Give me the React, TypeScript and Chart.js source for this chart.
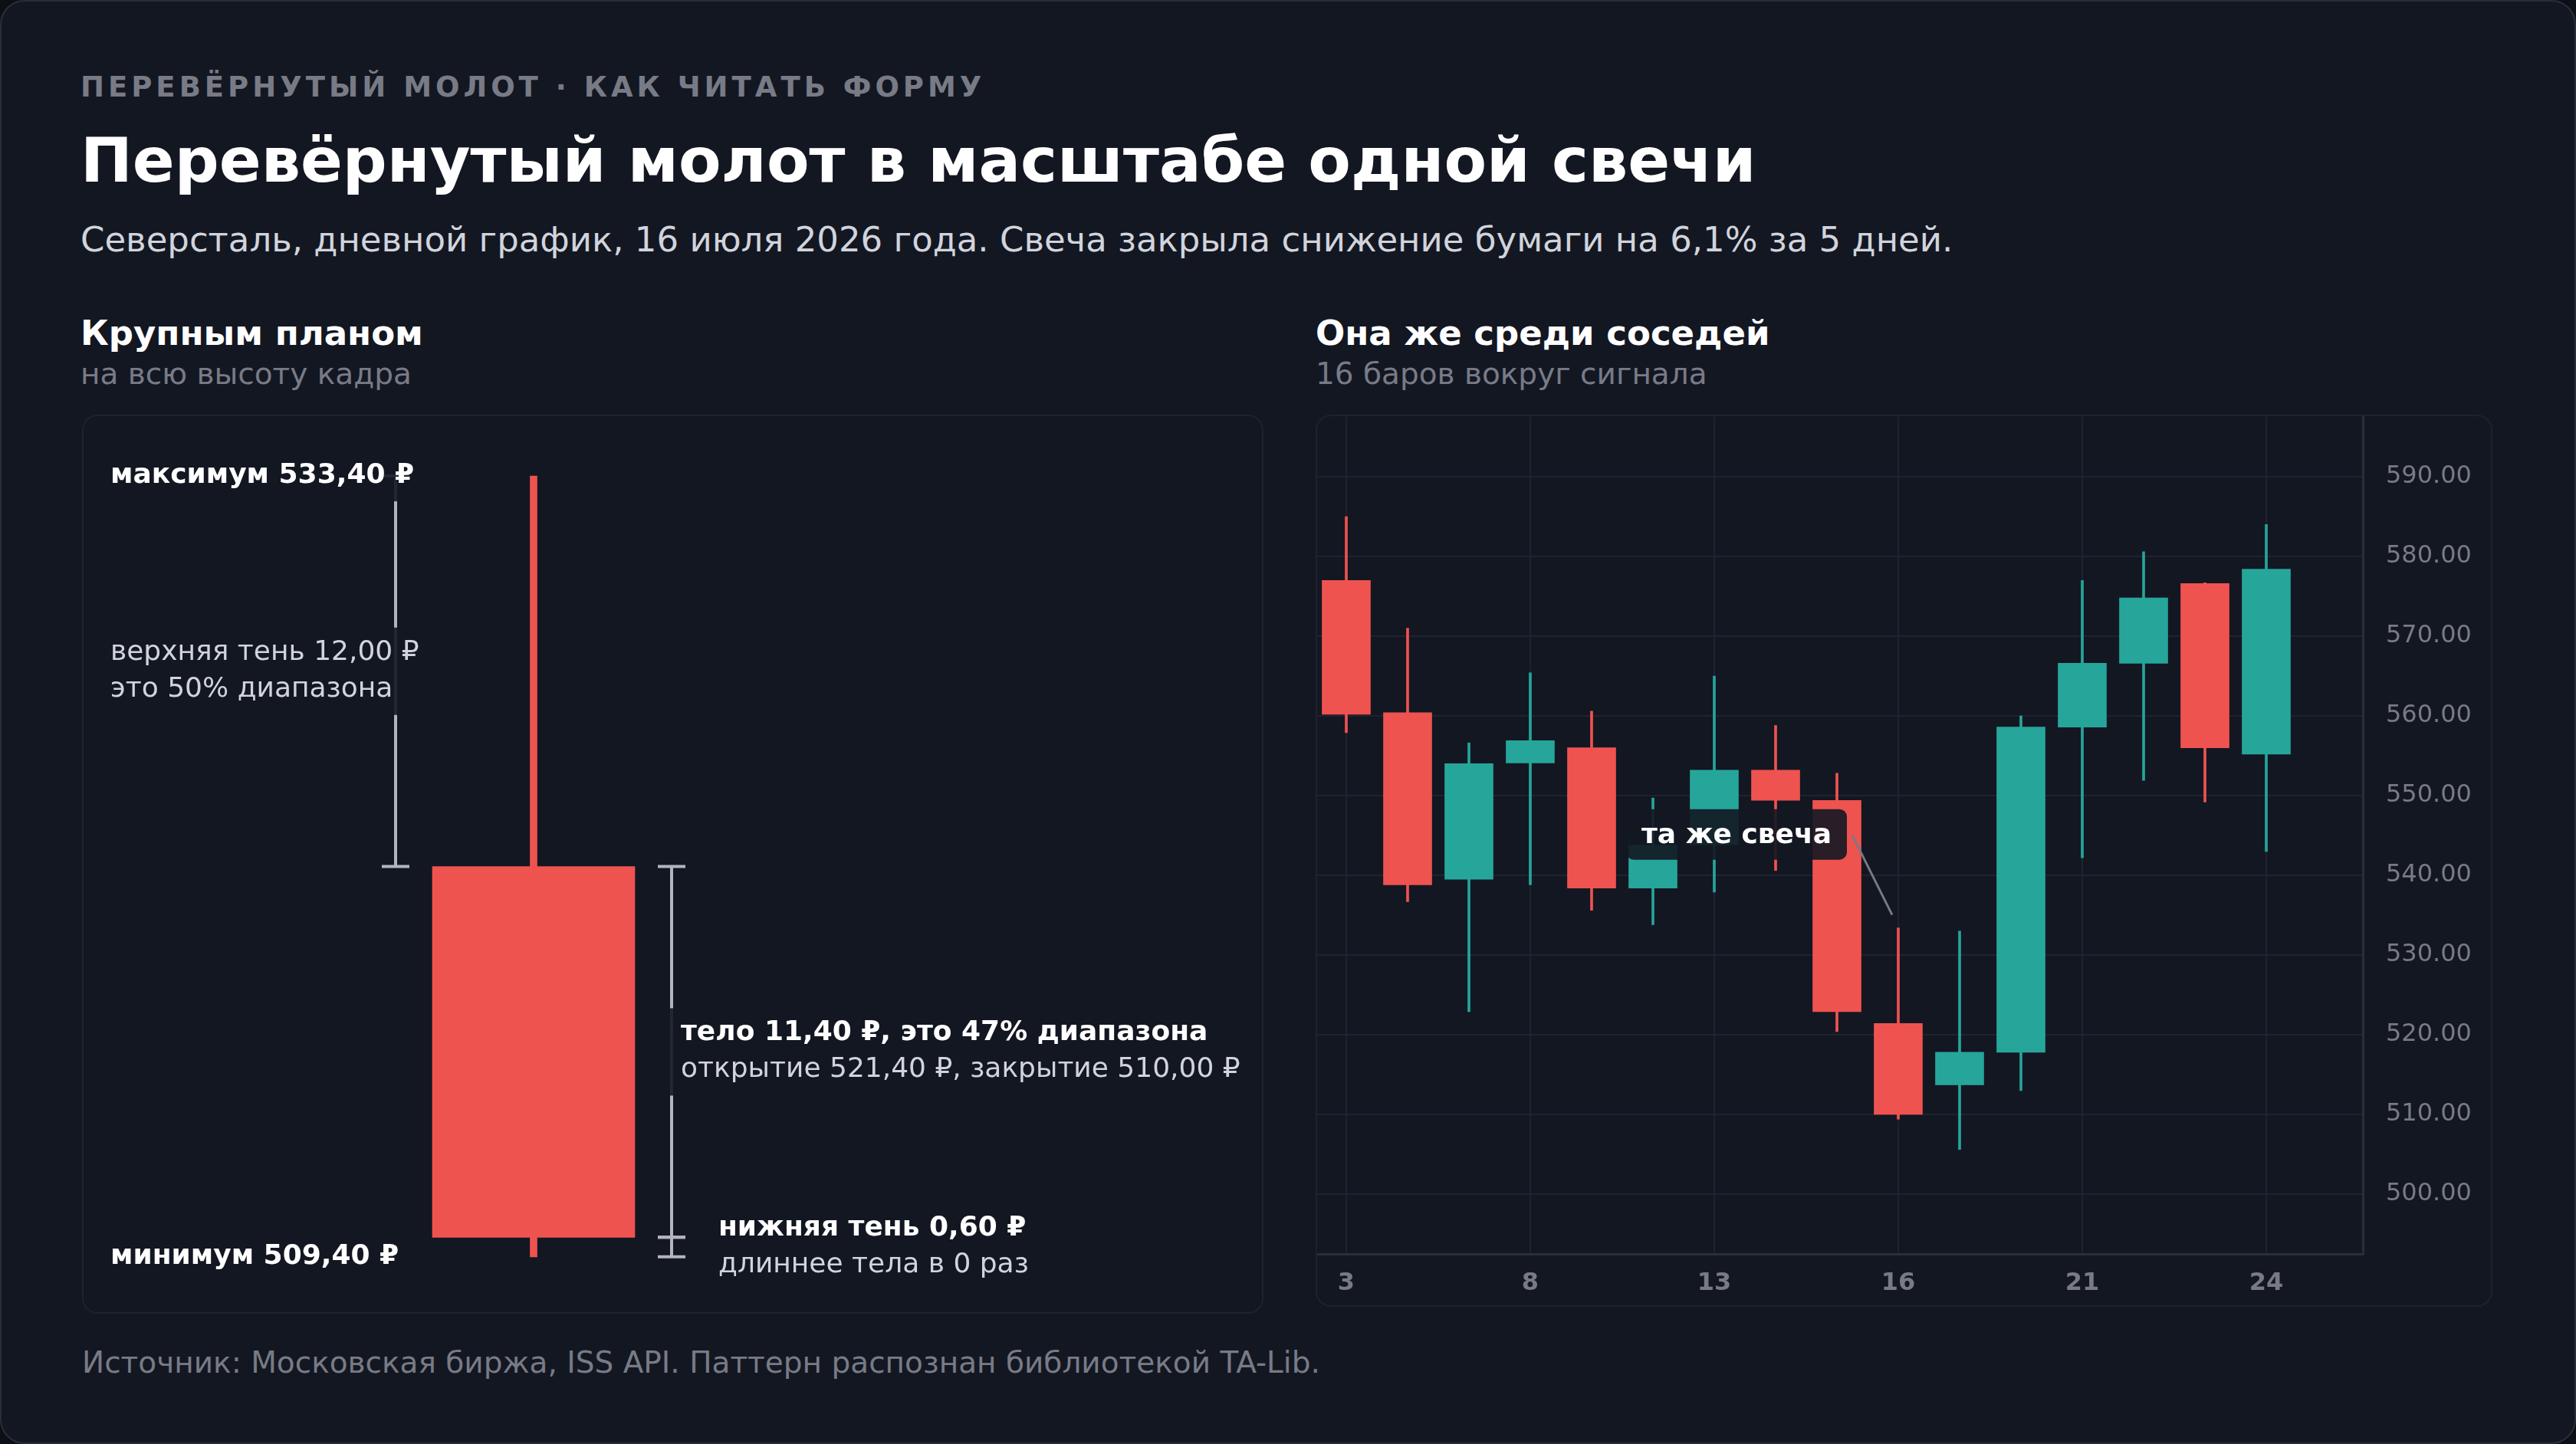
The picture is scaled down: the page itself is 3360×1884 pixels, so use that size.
import { useEffect, useRef } from 'react';
import { Chart, registerables } from 'chart.js';

Chart.register(...registerables);
Chart.defaults.font.family = '"DejaVu Sans", sans-serif';

// Severstal daily candles around the signal (July 2026)
const days = [3, 6, 7, 8, 9, 10, 13, 14, 15, 16, 17, 20, 21, 22, 23, 24];
const opens = [577.0, 560.4, 539.5, 554.1, 556.0, 538.4, 543.8, 553.2, 549.4, 521.4, 513.7, 517.8, 558.6, 566.6, 576.6, 555.2];
const highs = [585.0, 571.0, 556.6, 565.4, 560.6, 549.7, 565.0, 558.8, 552.8, 533.4, 533.0, 560.0, 577.0, 580.6, 576.7, 584.0];
const lows = [557.9, 536.7, 522.9, 538.8, 535.6, 533.8, 537.9, 540.6, 520.4, 509.4, 505.6, 513.0, 542.2, 551.9, 549.2, 543.0];
const closes = [560.2, 538.8, 554.0, 556.9, 538.4, 543.8, 553.2, 549.4, 522.9, 510.0, 517.8, 558.6, 566.6, 574.8, 556.0, 578.4];
const tickIdx = [0, 3, 6, 9, 12, 15];
const signalIdx = 9;

const BG = '#131722';
const RED = '#ef5350';
const TEAL = '#26a69a';
const GRID = '#1f2330';
const AXIS = '#2a2e39';
const MUTED = '#787b86';
const SOFT = '#d1d4dc';
const BRACKET = '#b2b5be';
const MASK = 'rgba(19,23,34,0.9)';

const rub = (v: number) => v.toFixed(2).replace('.', ',') + ' ₽';

const candleColor = (i: number) => (closes[i] >= opens[i] ? TEAL : RED);

function drawBracket(ctx: CanvasRenderingContext2D, x: number, y1: number, y2: number) {
  ctx.strokeStyle = BRACKET;
  ctx.lineWidth = 4;
  ctx.beginPath();
  ctx.moveTo(x, y1);
  ctx.lineTo(x, y2);
  ctx.moveTo(x - 18, y1);
  ctx.lineTo(x + 18, y1);
  ctx.moveTo(x - 18, y2);
  ctx.lineTo(x + 18, y2);
  ctx.stroke();
}

type Line = { text: string; bold: boolean };

function drawLabel(ctx: CanvasRenderingContext2D, x: number, cy: number, lines: Line[]) {
  const fontOf = (l: Line) => (l.bold ? 'bold ' : '') + '36px "DejaVu Sans"';
  const baselines = lines.length === 1 ? [cy + 9] : [cy - 15, cy + 33];
  let w = 0;
  lines.forEach((l) => {
    ctx.font = fontOf(l);
    w = Math.max(w, ctx.measureText(l.text).width);
  });
  ctx.fillStyle = MASK;
  const top = baselines[0] - 42;
  const bottom = baselines[baselines.length - 1] + 24;
  ctx.fillRect(x - 16, top, w + 32, bottom - top);
  ctx.textBaseline = 'alphabetic';
  ctx.textAlign = 'left';
  lines.forEach((l, i) => {
    ctx.font = fontOf(l);
    ctx.fillStyle = l.bold ? '#ffffff' : SOFT;
    ctx.fillText(l.text, x, baselines[i]);
  });
}

const closeUpPlugin = {
  id: 'closeUp',
  afterDatasetsDraw(chart: any) {
    const { ctx } = chart;
    const y = chart.scales.y;
    const s = signalIdx;
    const cx = chart.getDatasetMeta(1).data[0].x;
    const yHigh = y.getPixelForValue(highs[s]);
    const yTop = y.getPixelForValue(Math.max(opens[s], closes[s]));
    const yBot = y.getPixelForValue(Math.min(opens[s], closes[s]));
    const yLow = y.getPixelForValue(lows[s]);
    ctx.save();
    drawBracket(ctx, cx - 180, yHigh, yTop);
    drawBracket(ctx, cx + 180, yTop, yBot);
    drawBracket(ctx, cx + 180, yBot, yLow);
    const left = chart.chartArea.left + 35;
    drawLabel(ctx, left, yHigh, [{ text: 'максимум ' + rub(highs[s]), bold: true }]);
    drawLabel(ctx, left, (yHigh + yTop) / 2, [
      { text: 'верхняя тень 12,00 ₽', bold: false },
      { text: 'это 50% диапазона', bold: false },
    ]);
    drawLabel(ctx, cx + 192, (yTop + yBot) / 2, [
      { text: 'тело 11,40 ₽, это 47% диапазона', bold: true },
      { text: 'открытие ' + rub(opens[s]) + ', закрытие ' + rub(closes[s]), bold: false },
    ]);
    drawLabel(ctx, cx + 241, (yBot + yLow) / 2, [
      { text: 'нижняя тень 0,60 ₽', bold: true },
      { text: 'длиннее тела в 0 раз', bold: false },
    ]);
    drawLabel(ctx, left, yLow, [{ text: 'минимум ' + rub(lows[s]), bold: true }]);
    ctx.restore();
  },
};

const tagPlugin = {
  id: 'tag',
  afterDatasetsDraw(chart: any) {
    const { ctx } = chart;
    const cx = chart.getDatasetMeta(0).data[signalIdx].x;
    const yHigh = chart.scales.y.getPixelForValue(highs[signalIdx]);
    const text = 'та же свеча';
    ctx.save();
    ctx.font = 'bold 36px "DejaVu Sans"';
    const w = ctx.measureText(text).width;
    const boxR = cx - 67;
    const boxW = w + 40;
    const boxL = boxR - boxW;
    const boxT = yHigh - 155;
    ctx.fillStyle = 'rgba(19,23,34,0.9)';
    ctx.beginPath();
    ctx.roundRect(boxL, boxT, boxW, 66, 10);
    ctx.fill();
    ctx.fillStyle = '#ffffff';
    ctx.textBaseline = 'alphabetic';
    ctx.fillText(text, boxL + 20, yHigh - 111);
    ctx.strokeStyle = MUTED;
    ctx.lineWidth = 3;
    ctx.beginPath();
    ctx.moveTo(boxR + 7, yHigh - 121);
    ctx.lineTo(cx - 8, yHigh - 17);
    ctx.stroke();
    ctx.restore();
  },
};

const barOpts = { grouped: false, barPercentage: 1, categoryPercentage: 1, borderWidth: 0 };

function CloseUp() {
  const ref = useRef<HTMLCanvasElement>(null);
  useEffect(() => {
    const s = signalIdx;
    const chart = new Chart(ref.current!, {
      type: 'bar',
      data: {
        labels: [String(days[s])],
        datasets: [
          { ...barOpts, data: [[lows[s], highs[s]]], backgroundColor: RED, maxBarThickness: 9 },
          { ...barOpts, data: [[closes[s], opens[s]]], backgroundColor: RED, maxBarThickness: 264 },
        ],
      } as any,
      options: {
        animation: false,
        responsive: true,
        maintainAspectRatio: false,
        layout: { padding: { left: 0, right: 363, top: 0, bottom: 0 } },
        plugins: { legend: { display: false }, tooltip: { enabled: false } },
        scales: {
          x: { display: false },
          y: { display: false, min: 507.7, max: 535.24 },
        },
      },
      plugins: [closeUpPlugin],
    });
    return () => chart.destroy();
  }, []);
  return <canvas ref={ref} />;
}

function Neighbours() {
  const ref = useRef<HTMLCanvasElement>(null);
  useEffect(() => {
    const colors = days.map((_, i) => candleColor(i));
    const chart = new Chart(ref.current!, {
      type: 'bar',
      data: {
        datasets: [
          {
            ...barOpts,
            data: days.map((_, i) => ({ x: i, y: [lows[i], highs[i]] })),
            backgroundColor: colors,
            maxBarThickness: 3,
          },
          {
            ...barOpts,
            data: days.map((_, i) => ({ x: i, y: [opens[i], closes[i]] })),
            backgroundColor: colors,
            maxBarThickness: 63,
          },
        ],
      } as any,
      options: {
        animation: false,
        responsive: true,
        maintainAspectRatio: false,
        layout: { padding: 0, autoPadding: false },
        plugins: { legend: { display: false }, tooltip: { enabled: false } },
        scales: {
          x: {
            type: 'linear',
            min: -0.475,
            max: 16.575,
            offset: false,
            grid: { offset: false, color: GRID, lineWidth: 2, drawTicks: false },
            border: { display: true, color: AXIS, width: 3 },
            afterBuildTicks: (sc: any) => {
              sc.ticks = tickIdx.map((v) => ({ value: v }));
            },
            afterFit: (sc: any) => {
              sc.height = 67;
              sc.paddingLeft = 0;
              sc.paddingRight = 0;
              sc.paddingTop = 0;
              sc.paddingBottom = 0;
            },
            ticks: {
              autoSkip: false,
              maxRotation: 0,
              padding: 19,
              color: MUTED,
              font: { size: 32, weight: 'bold' },
              callback: (v: any) => String(days[v]),
            },
          },
          y: {
            position: 'right',
            min: 492.5,
            max: 597.6,
            grid: { color: GRID, lineWidth: 2, drawTicks: false },
            border: { display: true, color: AXIS, width: 3 },
            afterFit: (sc: any) => {
              sc.width = 167;
              sc.paddingTop = 0;
              sc.paddingBottom = 0;
              sc.paddingLeft = 0;
              sc.paddingRight = 0;
            },
            ticks: {
              stepSize: 10,
              includeBounds: false,
              padding: 30,
              color: MUTED,
              font: { size: 32 },
              callback: (v: any) => Number(v).toFixed(2),
            },
          },
        } as any,
      },
      plugins: [tagPlugin],
    });
    return () => chart.destroy();
  }, []);
  return <canvas ref={ref} />;
}

const abs = (left: number, top: number, size: number, extra: any = {}) => ({
  position: 'absolute' as const,
  left,
  top,
  fontSize: size,
  lineHeight: 1,
  whiteSpace: 'nowrap' as const,
  ...extra,
});

export default function App() {
  useEffect(() => {
    document.body.style.margin = '0';
    document.body.style.background = '#0c0f15';
  }, []);
  return (
    <div
      style={{
        position: 'relative',
        width: 3360,
        height: 1884,
        boxSizing: 'border-box',
        background: BG,
        border: '2px solid #2a2e39',
        borderRadius: 32,
        overflow: 'hidden',
        fontFamily: '"DejaVu Sans", sans-serif',
      }}
    >
      <div style={abs(103, 93, 37, { fontWeight: 700, color: MUTED, letterSpacing: 5 })}>
        ПЕРЕВЁРНУТЫЙ МОЛОТ · КАК ЧИТАТЬ ФОРМУ
      </div>
      <div style={abs(103, 167, 81, { fontWeight: 700, color: '#ffffff' })}>
        Перевёрнутый молот в масштабе одной свечи
      </div>
      <div style={abs(103, 288, 45, { color: SOFT })}>
        Северсталь, дневной график, 16 июля 2026 года. Свеча закрыла снижение бумаги на 6,1% за 5 дней.
      </div>

      <div style={abs(103, 410, 45, { fontWeight: 700, color: '#ffffff' })}>Крупным планом</div>
      <div style={abs(103, 466, 39, { color: MUTED })}>на всю высоту кадра</div>
      <div style={abs(1714, 410, 45, { fontWeight: 700, color: '#ffffff' })}>Она же среди соседей</div>
      <div style={abs(1714, 466, 39, { color: MUTED })}>16 баров вокруг сигнала</div>

      <div
        style={{
          position: 'absolute',
          left: 105,
          top: 539,
          width: 1541,
          height: 1173,
          boxSizing: 'border-box',
          border: '2px solid #1e222d',
          borderRadius: 20,
        }}
      >
        <div style={{ position: 'absolute', inset: 0 }}>
          <CloseUp />
        </div>
      </div>

      <div
        style={{
          position: 'absolute',
          left: 1714,
          top: 539,
          width: 1535,
          height: 1164,
          boxSizing: 'border-box',
          border: '2px solid #1e222d',
          borderRadius: 20,
          overflow: 'hidden',
        }}
      >
        <div style={{ position: 'absolute', inset: 0 }}>
          <Neighbours />
        </div>
      </div>

      <div style={abs(105, 1756, 39, { color: MUTED })}>
        Источник: Московская биржа, ISS API. Паттерн распознан библиотекой TA-Lib.
      </div>
    </div>
  );
}
